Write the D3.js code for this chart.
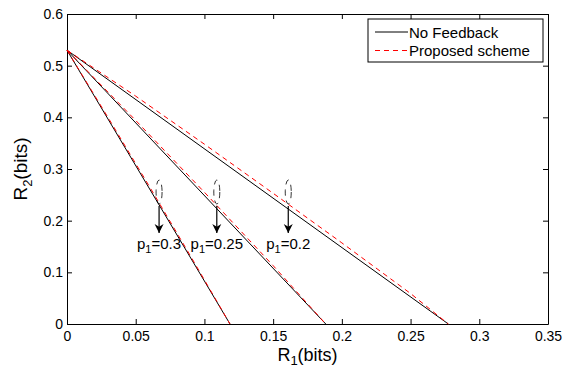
<!DOCTYPE html>
<html>
<head>
<meta charset="utf-8">
<style>
body { margin: 0; background: #fff; }
text { font-family: "Liberation Sans", Arial, sans-serif; fill: #000; }
.axis path, .axis line { stroke: #000; stroke-width: 1px; }
</style>
</head>
<body>
<script src="https://cdn.jsdelivr.net/npm/d3@7/dist/d3.min.js"></script>
<script>

// boundary curves, one per p1
var pValues = ["0.3", "0.25", "0.2"];

var noFeedbackX = [[0, 0.1186], [0, 0.1883], [0, 0.2775]];
var noFeedbackY = [[0.53, 0], [0.53, 0], [0.53, 0]];

var proposedX = [
  [0, 0.03, 0.06, 0.09, 0.1186],
  [0, 0.05, 0.10, 0.15, 0.1883],
  [0, 0.05, 0.10, 0.15, 0.20, 0.25, 0.2775]
];
var proposedY = [
  [0.53, 0.399, 0.266, 0.131, 0],
  [0.53, 0.394, 0.255, 0.113, 0],
  [0.53, 0.441, 0.348, 0.253, 0.157, 0.059, 0]
];

// annotation markers (R1 position, ellipse centre R2, arrow tip R2, label R2)
var markX = [0.067, 0.109, 0.161];
var markY = [0.2555, 0.2555, 0.2555];
var arrowTipY = [0.176, 0.176, 0.176];
var labelY = [0.145, 0.145, 0.145];

var xTicks = [0, 0.05, 0.1, 0.15, 0.2, 0.25, 0.3, 0.35];
var yTicks = [0, 0.1, 0.2, 0.3, 0.4, 0.5, 0.6];

var width = 563, height = 367;
var margin = {left: 67, right: 15, top: 14, bottom: 43};

var svg = d3.select("body").append("svg")
    .attr("width", width)
    .attr("height", height);

var x = d3.scaleLinear().domain([0, 0.35]).range([margin.left, width - margin.right]);
var y = d3.scaleLinear().domain([0, 0.6]).range([height - margin.bottom, margin.top]);

var fmt = function(d) { return d === 0 ? "0" : String(+d.toFixed(2)); };

// axes (MATLAB style: ticks inward, box all round)
svg.append("g").attr("class", "axis")
    .attr("transform", "translate(0," + y(0) + ")")
    .call(d3.axisBottom(x).tickValues(xTicks).tickSizeInner(-5).tickSizeOuter(0).tickPadding(7).tickFormat(fmt))
    .selectAll("text").style("font-size", "14px");
svg.append("g").attr("class", "axis")
    .attr("transform", "translate(0," + y(0.6) + ")")
    .call(d3.axisTop(x).tickValues(xTicks).tickSizeInner(-5).tickSizeOuter(0).tickFormat(""));
svg.append("g").attr("class", "axis")
    .attr("transform", "translate(" + x(0) + ",0)")
    .call(d3.axisLeft(y).tickValues(yTicks).tickSizeInner(-5).tickSizeOuter(0).tickPadding(4).tickFormat(fmt))
    .selectAll("text").style("font-size", "14px");
svg.append("g").attr("class", "axis")
    .attr("transform", "translate(" + x(0.35) + ",0)")
    .call(d3.axisRight(y).tickValues(yTicks).tickSizeInner(-5).tickSizeOuter(0).tickFormat(""));

var line = d3.line().x(function(d) { return x(d[0]); }).y(function(d) { return y(d[1]); });

noFeedbackX.forEach(function(xs, i) {
  svg.append("path")
      .datum(xs.map(function(v, j) { return [v, noFeedbackY[i][j]]; }))
      .attr("d", line)
      .attr("fill", "none")
      .attr("stroke", "#000")
      .attr("stroke-width", 1);
});

proposedX.forEach(function(xs, i) {
  svg.append("path")
      .datum(xs.map(function(v, j) { return [v, proposedY[i][j]]; }))
      .attr("d", line)
      .attr("fill", "none")
      .attr("stroke", "#ff0000")
      .attr("stroke-width", 1)
      .attr("stroke-dasharray", "5,4");
});

// annotations
svg.append("defs").append("marker")
    .attr("id", "arrow")
    .attr("viewBox", "0 0 10 10")
    .attr("refX", 10).attr("refY", 5)
    .attr("markerWidth", 9).attr("markerHeight", 14)
    .attr("markerUnits", "userSpaceOnUse")
    .attr("orient", "auto")
  .append("path")
    .attr("d", "M0,0 L10,5 L0,10 L3,5 Z")
    .attr("fill", "#000");

pValues.forEach(function(p, i) {
  var cx = x(markX[i]), cy = y(markY[i]);
  svg.append("ellipse")
      .attr("cx", cx).attr("cy", cy)
      .attr("rx", 3).attr("ry", 12)
      .attr("fill", "none")
      .attr("stroke", "#000")
      .attr("stroke-width", 0.8)
      .attr("stroke-dasharray", "6,5");
  svg.append("line")
      .attr("x1", cx).attr("y1", cy + 14)
      .attr("x2", cx).attr("y2", y(arrowTipY[i]))
      .attr("stroke", "#000")
      .attr("stroke-width", 1.2)
      .attr("marker-end", "url(#arrow)");
  var t = svg.append("text")
      .attr("x", cx)
      .attr("y", y(labelY[i]))
      .attr("text-anchor", "middle")
      .style("font-size", "15px");
  t.append("tspan").text("p");
  t.append("tspan").attr("dy", 4).style("font-size", "11px").text("1");
  t.append("tspan").attr("dy", -4).text("=" + p);
});

// axis labels
var xl = svg.append("text")
    .attr("x", (x(0) + x(0.35)) / 2)
    .attr("y", 361)
    .attr("text-anchor", "middle")
    .style("font-size", "18px");
xl.append("tspan").text("R");
xl.append("tspan").attr("dy", 4).style("font-size", "13px").text("1");
xl.append("tspan").attr("dy", -4).text("(bits)");

var yl = svg.append("text")
    .attr("transform", "translate(27," + ((y(0) + y(0.6)) / 2) + ") rotate(-90)")
    .attr("text-anchor", "middle")
    .style("font-size", "19px");
yl.append("tspan").text("R");
yl.append("tspan").attr("dy", 5).style("font-size", "13px").text("2");
yl.append("tspan").attr("dy", -5).text("(bits)");

// legend
var legendNames = ["No Feedback", "Proposed scheme"];
var legendColors = ["#000", "#ff0000"];
var legendDash = [null, "5,4"];
var lg = svg.append("g").attr("transform", "translate(368,19)");
lg.append("rect")
    .attr("width", 175).attr("height", 43)
    .attr("fill", "#fff").attr("stroke", "#000").attr("stroke-width", 1);
legendNames.forEach(function(name, i) {
  var ly = 13 + i * 18.5;
  lg.append("line")
      .attr("x1", 7).attr("x2", 40).attr("y1", ly).attr("y2", ly)
      .attr("stroke", legendColors[i]).attr("stroke-width", 1)
      .attr("stroke-dasharray", legendDash[i]);
  lg.append("text")
      .attr("x", 41).attr("y", ly + 5.5)
      .style("font-size", "15px")
      .text(name);
});

</script>
</body>
</html>
